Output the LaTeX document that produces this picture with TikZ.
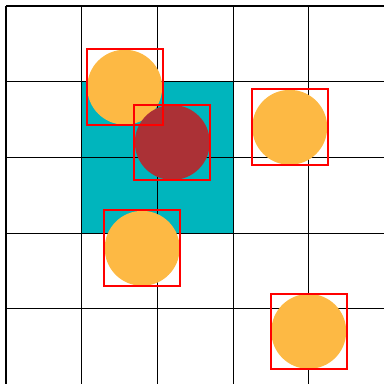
\documentclass[tikz,border=0pt]{standalone}
\usepackage{tikz}
\usetikzlibrary{positioning, calc}
\usepackage{xcolor}
\definecolor{cellcolor}{RGB}{0,181,189}
\definecolor{ballcolor}{RGB}{253,185,68}
\definecolor{hitcolor}{RGB}{171,49,54}
\definecolor{boxcolor}{RGB}{255,0,0}

\begin{document}
\begin{tikzpicture}[
    x=1cm, y=-1cm,
    ball/.style={circle, fill=ballcolor, minimum size=0.99cm, inner sep=0pt},
    hit/.style={ball, fill=hitcolor},
    bbox/.style={rectangle, draw=boxcolor, line width=0.75pt, minimum size=1cm, inner sep=0pt}
]
\useasboundingbox (-0.079,-0.079) rectangle (4.98,4.993);
\fill[cellcolor] (1,1) rectangle (3,3);
\draw[line width=0.45pt] (0,0) grid (5,5);

\node[ball] (b1) at (1.568,1.073) {};
\node[hit] (b2) at (2.197,1.803) {};
\node[ball] (b3) at (3.748,1.603) {};
\node[ball] (b4) at (1.799,3.201) {};
\node[ball] (b5) at (3.999,4.298) {};

\node[bbox] (f1) at (b1.center) {};
\node[bbox] (f2) at (b2.center) {};
\node[bbox] (f3) at (b3.center) {};
\node[bbox] (f4) at (b4.center) {};
\node[bbox] (f5) at (b5.center) {};
\end{tikzpicture}
\end{document}
